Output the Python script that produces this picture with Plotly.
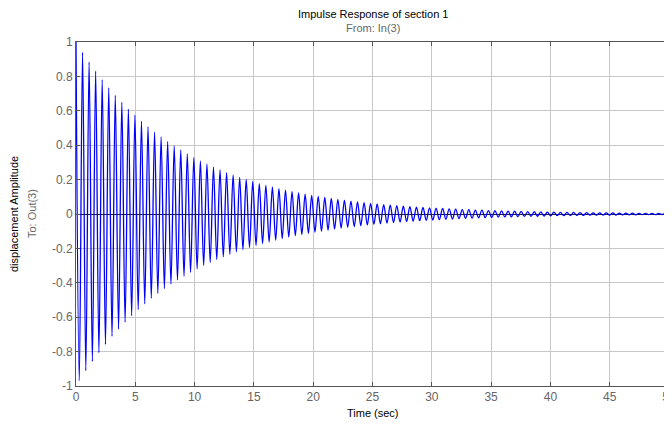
import plotly.graph_objects as go

# Extrema of the impulse response (alternating peaks/troughs)
half_period = 0.276  # seconds between successive extrema
extrema_values = [
    1.000, -0.970, 0.940, -0.911, 0.884, -0.857, 0.831, -0.806, 0.781, -0.758,
    0.734, -0.712, 0.690, -0.669, 0.649, -0.629, 0.610, -0.592, 0.574, -0.556,
    0.539, -0.523, 0.507, -0.491, 0.476, -0.462, 0.448, -0.434, 0.421, -0.408,
    0.396, -0.384, 0.372, -0.361, 0.350, -0.339, 0.329, -0.319, 0.309, -0.300,
    0.291, -0.282, 0.273, -0.265, 0.257, -0.249, 0.241, -0.234, 0.227, -0.220,
    0.213, -0.207, 0.201, -0.195, 0.189, -0.183, 0.177, -0.172, 0.167, -0.162,
    0.157, -0.152, 0.147, -0.143, 0.139, -0.134, 0.130, -0.126, 0.122, -0.119,
    0.115, -0.112, 0.108, -0.105, 0.102, -0.099, 0.096, -0.093, 0.090, -0.087,
    0.085, -0.082, 0.080, -0.077, 0.075, -0.073, 0.070, -0.068, 0.066, -0.064,
    0.062, -0.060, 0.059, -0.057, 0.055, -0.053, 0.052, -0.050, 0.049, -0.047,
    0.046, -0.044, 0.043, -0.042, 0.040, -0.039, 0.038, -0.037, 0.036, -0.035,
    0.034, -0.033, 0.032, -0.031, 0.030, -0.029, 0.028, -0.027, 0.026, -0.025,
    0.025, -0.024, 0.023, -0.022, 0.022, -0.021, 0.020, -0.020, 0.019, -0.018,
    0.018, -0.017, 0.017, -0.016, 0.016, -0.015, 0.015, -0.014, 0.014, -0.013,
    0.013, -0.013, 0.012, -0.012, 0.011, -0.011, 0.011, -0.010, 0.010, -0.010,
    0.009, -0.009, 0.009, -0.008, 0.008, -0.008, 0.008, -0.007, 0.007, -0.007,
    0.007, -0.006, 0.006, -0.006, 0.006, -0.006, 0.005, -0.005, 0.005, -0.005,
    0.005, -0.005, 0.004, -0.004, 0.004, -0.004, 0.004, -0.004, 0.003, -0.003,
    0.003, -0.003,
]
extrema_times = [i * half_period for i in range(len(extrema_values))]

x_ticks = [0, 5, 10, 15, 20, 25, 30, 35, 40, 45, 50]
y_ticks = [-1, -0.8, -0.6, -0.4, -0.2, 0, 0.2, 0.4, 0.6, 0.8, 1]
y_tick_labels = ["-1", "-0.8", "-0.6", "-0.4", "-0.2", "0", "0.2", "0.4", "0.6", "0.8", "1"]

FONT = "Liberation Sans, Arial, sans-serif"

fig = go.Figure()
fig.add_trace(go.Scatter(
    x=extrema_times, y=extrema_values, mode="lines",
    line=dict(color="#0000FF", width=1.3, shape="spline", smoothing=1.0),
    showlegend=False, hoverinfo="skip", cliponaxis=True,
))

axis_common = dict(
    showgrid=True, gridcolor="#C8C8C8", gridwidth=1,
    showline=True, linecolor="#555555", linewidth=1, mirror="ticks",
    ticks="inside", ticklen=4, tickcolor="#555555", automargin=False,
    ticklabeloverflow="allow",
    tickfont=dict(family=FONT, size=12, color="#666666"),
)

# The page body adds an 8px offset, so the figure is 8px smaller on each axis
fig.update_layout(
    width=664, height=416,
    margin=dict(l=68, r=3, t=34, b=38),
    paper_bgcolor="white", plot_bgcolor="white",
    font=dict(family=FONT, size=11, color="#000000"),
    xaxis=dict(
        range=[0, 50], tickvals=x_ticks, zeroline=False,
        **axis_common,
    ),
    yaxis=dict(
        range=[-1, 1], tickvals=y_ticks, ticktext=y_tick_labels,
        zeroline=True, zerolinecolor="#222222", zerolinewidth=1,
        **axis_common,
    ),
    annotations=[
        dict(text="Impulse Response of section 1", xref="paper", yref="paper",
             x=0.5, y=1, yshift=28, yanchor="middle", showarrow=False,
             font=dict(family=FONT, size=11, color="#000")),
        dict(text="From: In(3)", xref="paper", yref="paper",
             x=0.5, y=1, yshift=14, yanchor="middle", showarrow=False,
             font=dict(family=FONT, size=11, color="#666666")),
        dict(text="displacement Amplitude", xref="paper", yref="paper",
             x=0, xshift=-62, y=0.5, xanchor="center", yanchor="middle",
             textangle=-90, showarrow=False,
             font=dict(family=FONT, size=11, color="#000")),
        dict(text="To: Out(3)", xref="paper", yref="paper",
             x=0, xshift=-44, y=0.5, xanchor="center", yanchor="middle",
             textangle=-90, showarrow=False,
             font=dict(family=FONT, size=11, color="#666666")),
        dict(text="Time (sec)", xref="paper", yref="paper",
             x=0.5, y=0, yshift=-27, xanchor="center", yanchor="middle",
             showarrow=False,
             font=dict(family=FONT, size=11, color="#000")),
    ],
)

fig.write_html("out.html")
